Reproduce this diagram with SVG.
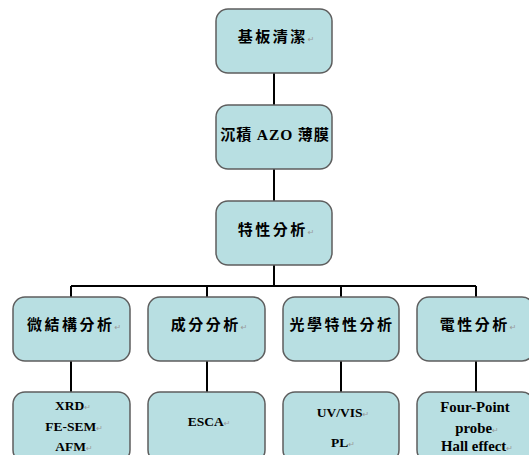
<svg xmlns="http://www.w3.org/2000/svg" width="529" height="455" viewBox="0 0 529 455">
<style>
.box{fill:#b8dfe2;stroke:#5e5e5e;stroke-width:1.5}
.zh{font-family:"Noto Sans CJK TC","Noto Sans CJK SC",sans-serif;font-weight:bold;font-size:15px;letter-spacing:2.5px;fill:#000;text-anchor:middle}
.en{font-family:"Liberation Serif",serif;font-weight:bold;font-size:13.5px;fill:#000;text-anchor:middle}
.en2{font-size:14.8px}
.rm{font-family:"DejaVu Sans",sans-serif;font-weight:normal;font-size:8px;fill:#999;letter-spacing:0}
.ln{stroke:#000;stroke-width:2;fill:none}
</style>
<g id="connectors">
<path class="ln" d="M274 73V105M274 169V201M274 265V286M71 286H476M71 286V297M207 286V297M341 286V297M476 286V297M71 361V392M207 361V392M341 361V392M476 361V392"/>
</g>
<g id="n1"><rect class="box" x="216" y="9" width="116" height="64" rx="12"/><text class="zh" x="276" y="42">基板清潔<tspan class="rm">↵</tspan></text></g>
<g id="n2"><rect class="box" x="216" y="105" width="116" height="64" rx="12"/><text class="zh" x="275" y="140" style="letter-spacing:1px">沉積 <tspan style="font-family:'Liberation Serif',serif;font-size:15.5px">AZO</tspan> 薄膜</text></g>
<g id="n3"><rect class="box" x="216" y="201" width="116" height="64" rx="12"/><text class="zh" x="276" y="235">特性分析<tspan class="rm">↵</tspan></text></g>
<g id="n4"><rect class="box" x="13" y="297" width="117" height="64" rx="12"/><text class="zh" x="74" y="330">微結構分析<tspan class="rm">↵</tspan></text></g>
<g id="n5"><rect class="box" x="148" y="297" width="117" height="64" rx="12"/><text class="zh" x="209" y="330">成分分析<tspan class="rm">↵</tspan></text></g>
<g id="n6"><rect class="box" x="283" y="297" width="116" height="64" rx="12"/><text class="zh" x="342" y="330">光學特性分析</text></g>
<g id="n7"><rect class="box" x="417" y="297" width="117" height="64" rx="12"/><text class="zh" x="478" y="330">電性分析<tspan class="rm">↵</tspan></text></g>
<g id="n8"><rect class="box" x="13" y="392" width="117" height="70" rx="12"/>
<text class="en" x="73" y="410">XRD<tspan class="rm">↵</tspan></text>
<text class="en" x="74" y="431">FE-SEM<tspan class="rm">↵</tspan></text>
<text class="en" x="74" y="451">AFM<tspan class="rm">↵</tspan></text></g>
<g id="n9"><rect class="box" x="148" y="392" width="117" height="70" rx="12"/><text class="en" x="209" y="426">ESCA<tspan class="rm">↵</tspan></text></g>
<g id="n10"><rect class="box" x="283" y="392" width="116" height="70" rx="12"/>
<text class="en" x="343" y="417">UV/VIS<tspan class="rm">↵</tspan></text>
<text class="en" x="343" y="447">PL<tspan class="rm">↵</tspan></text></g>
<g id="n11"><rect class="box" x="417" y="392" width="117" height="70" rx="12"/>
<text class="en en2" x="475" y="412">Four-Point</text>
<text class="en en2" x="477" y="433">probe<tspan class="rm">↵</tspan></text>
<text class="en en2" x="477" y="451">Hall effect<tspan class="rm">↵</tspan></text></g>
</svg>
